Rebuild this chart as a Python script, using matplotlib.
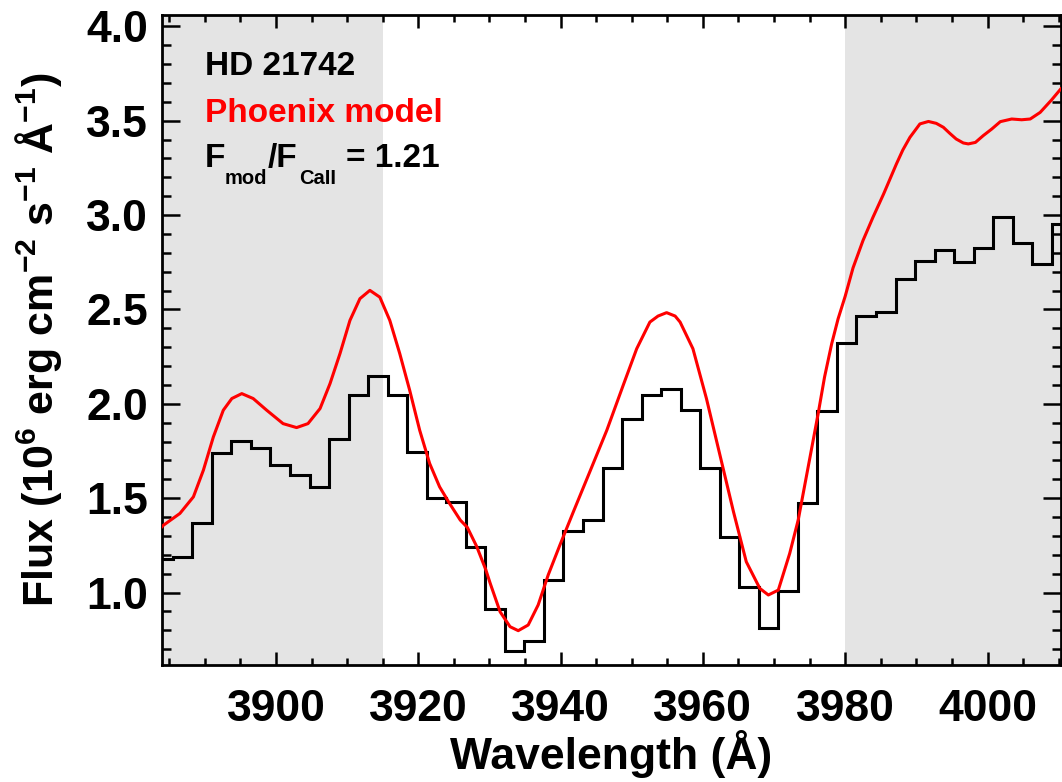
import matplotlib
matplotlib.use("Agg")
import matplotlib.pyplot as plt
from matplotlib.ticker import MultipleLocator, FormatStrFormatter

plt.rcParams['font.family'] = ['Liberation Sans', 'DejaVu Sans']
plt.rcParams['font.weight'] = 'bold'
plt.rcParams['mathtext.fontset'] = 'custom'
plt.rcParams['mathtext.rm'] = 'Liberation Sans:bold'
plt.rcParams['mathtext.bf'] = 'Liberation Sans:bold'
plt.rcParams['mathtext.it'] = 'Liberation Sans:bold'
plt.rcParams['mathtext.sf'] = 'Liberation Sans:bold'
plt.rcParams['mathtext.default'] = 'rm'

# Observed spectrum (binned), bin edges in Angstrom
obs_edges = [3882.76, 3885.51, 3888.25, 3891.00, 3893.74, 3896.49, 3899.23, 3901.98,
             3904.72, 3907.47, 3910.21, 3912.96, 3915.70, 3918.45, 3921.19, 3923.94,
             3926.68, 3929.43, 3932.17, 3934.92, 3937.66, 3940.41, 3943.15, 3945.90,
             3948.64, 3951.39, 3954.13, 3956.88, 3959.62, 3962.37, 3965.11, 3967.86,
             3970.60, 3973.35, 3976.09, 3978.84, 3981.58, 3984.33, 3987.07, 3989.82,
             3992.56, 3995.31, 3998.05, 4000.80, 4003.54, 4006.29, 4009.03, 4011.78]
obs_flux = [1.176, 1.189, 1.369, 1.737, 1.802, 1.768, 1.678, 1.622,
            1.558, 1.812, 2.047, 2.149, 2.049, 1.742, 1.503, 1.479,
            1.242, 0.911, 0.692, 0.745, 1.066, 1.327, 1.384, 1.662,
            1.918, 2.045, 2.080, 1.966, 1.662, 1.295, 1.028, 0.811,
            1.008, 1.477, 1.960, 2.322, 2.465, 2.489, 2.659, 2.759,
            2.817, 2.749, 2.823, 2.992, 2.853, 2.742, 2.953]

# Phoenix model (smooth curve)
mod_wave = [3883.5, 3884.2, 3886.5, 3888.4, 3889.8, 3891.2, 3892.6, 3893.8, 3895.2,
            3896.8, 3898.7, 3901.0, 3902.9, 3904.5, 3906.2, 3907.6, 3909.0,
            3910.4, 3911.8, 3913.2, 3914.6, 3916.0, 3917.4, 3918.8, 3920.2,
            3921.6, 3923.0, 3924.4, 3925.9, 3926.9, 3928.2, 3929.5, 3930.1,
            3931.5, 3932.9, 3934.05, 3935.45, 3936.85, 3938.26, 3939.9, 3941.8,
            3944.1, 3946.5, 3948.8, 3950.7, 3952.55, 3953.7, 3954.9, 3956.1,
            3956.8, 3958.6, 3960.5, 3962.4, 3964.3, 3966.1, 3968.0, 3969.2,
            3970.6, 3972.2, 3973.4, 3974.8, 3976.2, 3977.1, 3978.1, 3979.0,
            3980.0, 3981.1, 3982.5, 3983.9, 3985.4, 3987.2, 3988.1, 3989.1,
            3990.5, 3991.7, 3992.8, 3993.8, 3994.7, 3995.6, 3996.6, 3997.3,
            3998.3, 3999.4, 4000.6, 4001.8, 4003.4, 4004.8, 4006.0, 4007.4,
            4009.0, 4010.4]
mod_flux = [1.330, 1.357, 1.419, 1.507, 1.648, 1.824, 1.966, 2.028, 2.054,
            2.028, 1.966, 1.895, 1.874, 1.895, 1.975, 2.107, 2.266,
            2.442, 2.557, 2.601, 2.565, 2.442, 2.266, 2.071, 1.860,
            1.684, 1.560, 1.472, 1.384, 1.345, 1.245, 1.120, 1.050,
            0.898, 0.819, 0.798, 0.828, 0.934, 1.093, 1.251, 1.428,
            1.639, 1.860, 2.098, 2.292, 2.433, 2.465, 2.483, 2.465,
            2.433, 2.292, 2.028, 1.728, 1.428, 1.163, 1.022, 0.987,
            1.013, 1.207, 1.385, 1.666, 1.948, 2.142, 2.318, 2.450,
            2.570, 2.720, 2.865, 2.988, 3.112, 3.271, 3.345, 3.412,
            3.483, 3.496, 3.486, 3.465, 3.433, 3.403, 3.382, 3.377,
            3.385, 3.421, 3.456, 3.495, 3.509, 3.505, 3.509, 3.544,
            3.610, 3.673]

shade_regions = [(3880.0, 3915.0), (3980.0, 4015.0)]
x_limits = (3883.98, 4010.26)
y_limits = (0.616, 4.06)

fig = plt.figure(figsize=(10.62, 7.82), dpi=100)
ax = fig.add_axes([0.1525, 0.1496, 0.8461, 0.8312])

for lo, hi in shade_regions:
    ax.axvspan(lo, hi, color='#e4e4e4', lw=0, zorder=0)

ax.stairs(obs_flux, obs_edges, color='black', lw=2.2, baseline=None, zorder=2)
ax.plot(mod_wave, mod_flux, color='#ff0000', lw=2.2, zorder=3,
        solid_joinstyle='round', solid_capstyle='round')

ax.set_xlim(*x_limits)
ax.set_ylim(*y_limits)

ax.xaxis.set_major_locator(MultipleLocator(20))
ax.xaxis.set_minor_locator(MultipleLocator(5))
ax.yaxis.set_major_locator(MultipleLocator(0.5))
ax.yaxis.set_minor_locator(MultipleLocator(0.1))
ax.yaxis.set_major_formatter(FormatStrFormatter('%.1f'))

ax.tick_params(axis='both', which='both', direction='in', top=True, right=True, width=1.8)
ax.tick_params(axis='x', which='major', length=9.5, labelsize=32, pad=17)
ax.tick_params(axis='x', which='minor', length=5)
ax.tick_params(axis='y', which='major', length=13, labelsize=32, pad=10)
ax.tick_params(axis='y', which='minor', length=6.5)
for lab in ax.get_xticklabels() + ax.get_yticklabels():
    lab.set_fontweight('bold')
for sp in ax.spines.values():
    sp.set_linewidth(2.0)

ax.set_xlabel('Wavelength (Å)', fontsize=32, fontweight='bold', labelpad=0)
ax.set_ylabel(r'Flux (10$^{6}$ erg cm$^{-2}$ s$^{-1}$ Å$^{-1}$)', fontsize=31,
              fontweight='bold', labelpad=16)

ax.text(0.048, 0.9077, 'HD 21742', transform=ax.transAxes, fontsize=24,
        fontweight='bold', color='black', va='baseline', ha='left')
ax.text(0.048, 0.8354, 'Phoenix model', transform=ax.transAxes, fontsize=24,
        fontweight='bold', color='#ff0000', va='baseline', ha='left')

# F_mod / F_CaII = 1.21 built from pieces (main baseline and subscript baseline)
main_base = 0.7662
sub_base = 0.7400
pieces = [('F', 0.0479, main_base, 24), ('mod', 0.0701, sub_base, 14.5),
          ('/F', 0.1180, main_base, 24), ('CaII', 0.1525, sub_base, 14.5),
          ('= 1.21', 0.2048, main_base, 24)]
for txt, px, py, fs in pieces:
    ax.text(px, py, txt, transform=ax.transAxes, fontsize=fs, fontweight='bold',
            color='black', va='baseline', ha='left')

fig.savefig('out.png', dpi=100)
